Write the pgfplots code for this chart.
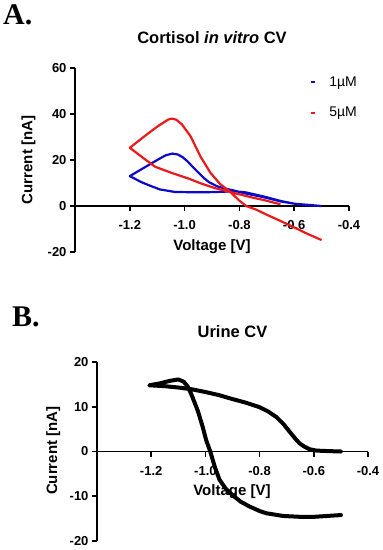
\documentclass[border=0pt]{standalone}
\usepackage{fontspec}
\setmainfont{Liberation Sans}
\newfontfamily\panelfont{Liberation Serif}
\usepackage{pgfplots}
\pgfplotsset{compat=1.18}
\definecolor{cvblue}{RGB}{10,10,200}
\definecolor{cvred}{RGB}{235,25,25}

\pgfplotsset{cvstyle/.style={
  scale only axis,
  axis x line=middle, axis y line=left,
  axis line style={-, line width=1.7pt, black},
  every tick/.style={line width=1.7pt, black},
  tick align=outside,
  major tick length=5pt,
  xmin=-1.4, xmax=-0.4,
  xtick={-1.2,-1.0,-0.8,-0.6,-0.4},
  /pgf/number format/assume math mode=true,
  x tick label style={/pgf/number format/fixed, /pgf/number format/fixed zerofill, /pgf/number format/precision=1, yshift=-6pt},
  tick label style={font=\bfseries\fontsize{13}{13}\selectfont},
  hide obscured x ticks=false, hide obscured y ticks=false,
  clip=false,
},
cvleg/.style={legend image code/.code={\draw[##1, line width=2pt] (0pt,0pt) -- (4pt,0pt);}},
}

\begin{document}
\begin{tikzpicture}
\path (0pt,0pt) rectangle (383pt,-550pt);
\node[anchor=north west, inner sep=0, font=\panelfont\bfseries\fontsize{30}{30}\selectfont] at (3pt,-4pt) {A.};
\node[anchor=north west, inner sep=0, font=\panelfont\bfseries\fontsize{30}{30}\selectfont] at (12pt,-307pt) {B.};

\begin{axis}[cvstyle,
  at={(75pt,-252pt)}, anchor=south west,
  width=274pt, height=184pt,
  ymin=-20, ymax=60, ytick={-20,0,20,40,60},
  title={Cortisol \textit{in vitro} CV},
  every axis title/.style={at={(axis description cs:0.5,1.163)}, anchor=center, font=\bfseries\fontsize{16.5}{16.5}\selectfont},
  xlabel={Voltage [V]}, ylabel={Current [nA]},
  every axis x label/.style={at={(axis description cs:0.5,0.027)}, anchor=center, font=\bfseries\fontsize{15}{15}\selectfont},
  every axis y label/.style={at={(axis description cs:-0.17,0.5)}, rotate=90, anchor=center, font=\bfseries\fontsize{15}{15}\selectfont},
  legend style={draw=none, fill=none, at={(axis description cs:0.847,0.975)}, anchor=north west,
    font=\fontsize{14}{14}\selectfont, row sep=15pt},
  legend cell align=left,
]
\addplot[cvblue, line width=2.2pt, line join=round, cvleg] coordinates {
(-0.50,0)(-0.55,0.5)(-0.60,1.0)(-0.65,2.0)(-0.70,3.5)(-0.73,4.3)(-0.76,5.0)(-0.79,5.8)
(-0.822,6.8)(-0.85,7.5)(-0.882,8.6)(-0.91,10.3)(-0.93,12.2)(-0.95,14.6)(-0.972,17.2)
(-0.99,19.5)(-1.008,21.3)(-1.025,22.4)(-1.045,22.8)(-1.07,22)(-1.1,20)(-1.15,16.5)(-1.2,13)
(-1.16,10.5)(-1.132,9.1)(-1.09,7.2)(-1.035,6.1)(-0.98,6.0)(-0.914,6.0)(-0.86,6.2)
(-0.818,6.4)(-0.78,6.0)(-0.75,5.2)(-0.70,3.8)(-0.65,2.2)(-0.60,1.0)(-0.55,0.3)(-0.50,0)
};
\addlegendentry{\hspace*{11pt}1\textmu M}
\addplot[cvred, line width=2.2pt, line join=round, cvleg] coordinates {
(-0.50,-14.8)(-0.55,-12.2)(-0.60,-9.3)(-0.65,-6.5)(-0.70,-3.8)(-0.74,-1.5)(-0.775,0)
(-0.80,2.3)(-0.834,6.2)(-0.87,9.5)(-0.906,14.5)(-0.942,21.5)(-0.978,30.3)(-1.01,35.5)
(-1.03,37.5)(-1.045,38)(-1.06,37.6)(-1.1,34.5)(-1.15,30)(-1.2,25.3)
(-1.15,20.8)(-1.108,17.1)(-1.05,14.5)(-0.987,12)(-0.94,9.8)(-0.89,7.8)(-0.818,5.6)
(-0.75,3.6)(-0.70,2.3)(-0.67,1.3)(-0.65,0.8)
};
\addlegendentry{\hspace*{11pt}5\textmu M}
\end{axis}

\begin{axis}[cvstyle,
  at={(97pt,-541pt)}, anchor=south west,
  width=271pt, height=179pt,
  ymin=-20, ymax=20, ytick={-20,-10,0,10,20},
  title={Urine CV},
  every axis title/.style={at={(axis description cs:0.5,1.168)}, anchor=center, font=\bfseries\fontsize{16.5}{16.5}\selectfont},
  xlabel={Voltage [V]}, ylabel={Current [nA]},
  every axis x label/.style={at={(axis description cs:0.498,0.274)}, anchor=center, font=\bfseries\fontsize{15}{15}\selectfont},
  every axis y label/.style={at={(axis description cs:-0.161,0.504)}, rotate=90, anchor=center, font=\bfseries\fontsize{15}{15}\selectfont},
]
\addplot[black, line width=4pt, line join=round, line cap=round] coordinates {
(-0.50,0)(-0.55,0.1)(-0.59,0.2)(-0.615,0.5)(-0.635,1.1)(-0.652,1.8)(-0.67,3.0)(-0.689,4.4)
(-0.71,6.0)(-0.738,7.7)(-0.77,9.0)(-0.80,9.9)(-0.85,10.9)(-0.899,11.7)(-0.95,12.6)
(-1.0,13.3)(-1.05,13.9)(-1.1,14.3)(-1.15,14.6)(-1.207,14.8)
(-1.17,15.2)(-1.13,15.8)(-1.10,16.1)(-1.08,15.6)(-1.065,14.5)(-1.05,12.5)(-1.028,9.1)
(-1.01,5.5)(-0.997,2.5)(-0.982,0)(-0.965,-3.5)(-0.948,-6.3)(-0.925,-8.3)(-0.899,-9.8)
(-0.87,-11.2)(-0.837,-12.3)(-0.80,-13.3)(-0.775,-13.8)(-0.714,-14.4)(-0.65,-14.6)
(-0.6,-14.6)(-0.55,-14.4)(-0.50,-14.2)
};
\end{axis}
\end{tikzpicture}
\end{document}
